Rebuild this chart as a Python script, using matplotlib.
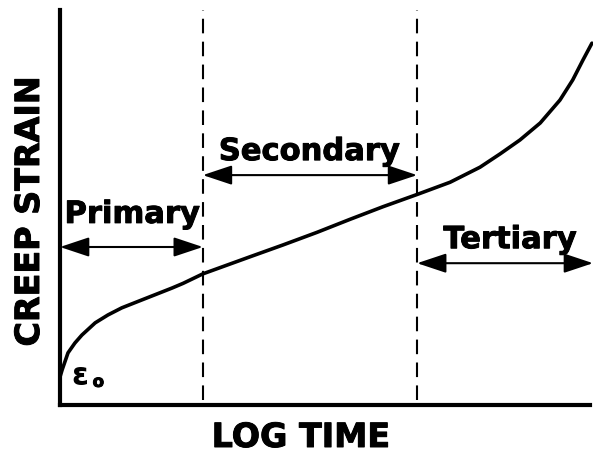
import matplotlib
matplotlib.use("Agg")
import matplotlib.pyplot as plt
import matplotlib.patheffects as pe

# creep curve, log time vs strain (arbitrary units 0..10)
log_time = [0.00, 0.04, 0.15, 0.28, 0.41, 0.66, 0.90, 1.16, 1.46, 1.78,
            2.10, 2.31, 2.68, 3.56, 4.18, 4.82, 5.44, 6.06, 6.70, 7.32,
            7.88, 8.26, 8.63, 9.01, 9.38, 9.62, 9.81, 9.98]
strain = [0.71, 0.89, 1.32, 1.57, 1.77, 2.08, 2.28, 2.46, 2.62, 2.79,
          2.96, 3.08, 3.32, 3.75, 4.05, 4.37, 4.70, 5.02, 5.33, 5.64,
          6.02, 6.36, 6.71, 7.14, 7.72, 8.23, 8.73, 9.16]

# stage boundaries and labels
boundaries = [2.68, 6.70]
stages = ["Primary", "Secondary", "Tertiary"]
stage_spans = [(0.0, 2.68), (2.68, 6.70), (6.70, 10.0)]
arrow_y = [4.0, 5.82, 3.59]
label_x = [1.35, 4.67, 8.44]
label_y = [4.61, 6.20, 3.97]

heavy = [pe.withStroke(linewidth=0.7, foreground="black")]

fig = plt.figure(figsize=(5.93, 4.55), dpi=100)
ax = fig.add_axes([60 / 593, 50 / 455, 533 / 593, 395 / 455])
ax.set_xlim(0, 10)
ax.set_ylim(0, 10)

for side in ["top", "right"]:
    ax.spines[side].set_visible(False)
ax.spines["left"].set_linewidth(3)
ax.spines["bottom"].set_linewidth(3)
ax.spines["bottom"].set_bounds(0, 9.95)
ax.set_xticks([])
ax.set_yticks([])

ax.plot(log_time, strain, color="black", lw=2.6, solid_capstyle="round",
        solid_joinstyle="round", clip_on=False)

for b in boundaries:
    ax.plot([b, b], [0.13, 10.0], color="black", lw=1.5, dashes=(7, 4))

for name, (x0, x1), y, lx, ly in zip(stages, stage_spans, arrow_y, label_x, label_y):
    ax.annotate("", xy=(x1, y), xytext=(x0, y),
                arrowprops=dict(arrowstyle="<|-|>,head_length=0.9,head_width=0.3",
                                color="black", lw=1.5, mutation_scale=20,
                                shrinkA=0, shrinkB=0),
                annotation_clip=False)
    ax.text(lx, ly, name, ha="center", va="baseline", fontsize=22,
            fontweight="bold", family="DejaVu Sans", path_effects=heavy)

ax.text(0.38, 0.51, "ε", ha="center", va="baseline", fontsize=22,
        fontweight="bold", family="DejaVu Sans")
ax.text(0.72, 0.46, "o", ha="center", va="baseline", fontsize=12,
        fontweight="bold", family="DejaVu Sans", path_effects=heavy)

fig.text(301 / 593, 1 - 447 / 455, "LOG TIME", ha="center", va="baseline",
         fontsize=24, fontweight="bold", family="DejaVu Sans", path_effects=heavy)
fig.text(29.5 / 593, 1 - 211 / 455, "CREEP STRAIN", ha="center", va="center",
         rotation=90, fontsize=24, fontweight="bold", family="DejaVu Sans",
         path_effects=heavy)

fig.savefig("out.png", dpi=100, facecolor="white")
